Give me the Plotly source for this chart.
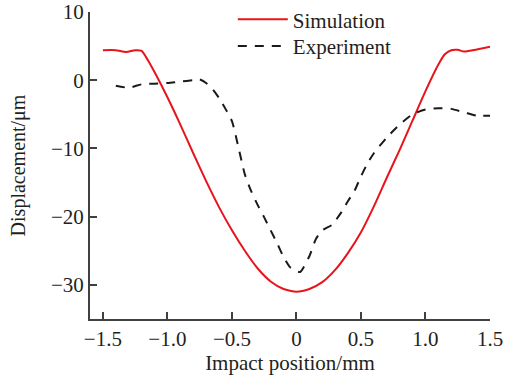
import plotly.graph_objects as go

# Simulation (red solid)
sim_x = [-1.5, -1.4, -1.32, -1.25, -1.2, -1.15, -1.1, -1.0, -0.9, -0.8, -0.7, -0.6, -0.5, -0.4,
         -0.3, -0.2, -0.1, 0.0, 0.1, 0.2, 0.3, 0.4, 0.5, 0.6, 0.7, 0.8, 0.9, 1.0, 1.1, 1.15,
         1.2, 1.25, 1.3, 1.4, 1.5]
sim_y = [4.4, 4.4, 4.15, 4.4, 4.3, 2.9, 1.2, -2.5, -6.5, -10.7, -14.8, -18.6, -22.0, -25.0,
         -27.6, -29.5, -30.6, -31.0, -30.6, -29.6, -27.8, -25.3, -22.3, -18.5, -14.3, -10.2,
         -5.9, -1.6, 2.3, 3.8, 4.4, 4.45, 4.2, 4.5, 4.9]

# Experiment (black dashed)
exp_x = [-1.4, -1.3, -1.2, -1.1, -1.0, -0.9, -0.8, -0.75, -0.7, -0.65, -0.6, -0.55, -0.5,
         -0.45, -0.4, -0.35, -0.3, -0.25, -0.2, -0.15, -0.1, -0.05, 0.0, 0.03, 0.1, 0.15,
         0.2, 0.275, 0.35, 0.4, 0.45, 0.5, 0.55, 0.6, 0.7, 0.8, 0.9, 1.0, 1.1, 1.2, 1.3,
         1.4, 1.5]
exp_y = [-0.8, -1.1, -0.6, -0.5, -0.4, -0.2, 0.0, 0.1, -0.4, -1.3, -2.6, -4.2, -6.0,
         -9.8, -13.8, -16.3, -18.3, -20.1, -22.0, -23.9, -25.9, -27.4, -28.0, -28.1, -25.8,
         -23.3, -22.0, -21.2, -19.3, -17.7, -16.2, -14.1, -12.2, -10.7, -8.4, -6.5, -5.0,
         -4.3, -4.1, -4.2, -4.7, -5.2, -5.2]

x_tickvals = [-1.5, -1.0, -0.5, 0, 0.5, 1.0, 1.5]
x_ticktext = ["\u22121.5", "\u22121.0", "\u22120.5", "0", "0.5", "1.0", "1.5"]
y_tickvals = [10, 0, -10, -20, -30]
y_ticktext = ["10", "0", "\u221210", "\u221220", "\u221230"]

FONT = "Liberation Serif"
AX = "#404040"

fig = go.Figure()
fig.add_trace(go.Scatter(x=sim_x, y=sim_y, mode="lines", name="Simulation", legend="legend",
                         line=dict(color="#e8141c", width=2, shape="spline", smoothing=0.6)))
fig.add_trace(go.Scatter(x=exp_x, y=exp_y, mode="lines", name="Experiment", legend="legend2",
                         line=dict(color="#1a1a1a", width=2, dash="9px,8px",
                                   shape="spline", smoothing=0.6)))

leg_common = dict(xanchor="left", yanchor="middle", bgcolor="rgba(0,0,0,0)",
                  font=dict(family=FONT, size=21, color="#231f20"), itemwidth=50)

fig.update_layout(
    width=508, height=377,
    margin=dict(l=90, r=18, t=12, b=58, autoexpand=False),
    paper_bgcolor="white", plot_bgcolor="white",
    font=dict(family=FONT, size=21, color="#231f20"),
    showlegend=True,
    legend=dict(x=0.357, y=0.975, **leg_common),
    legend2=dict(x=0.357, y=0.888, **leg_common),
    xaxis=dict(range=[-1.6, 1.5], tickvals=x_tickvals, ticktext=x_ticktext,
               showline=True, linecolor=AX, linewidth=2, ticks="inside", ticklen=7,
               tickwidth=1.5, tickcolor=AX, showgrid=False, zeroline=False,
               automargin=False,
               title=dict(text="Impact position/mm", standoff=3,
                          font=dict(family=FONT, size=21)),
               tickfont=dict(family=FONT, size=21)),
    yaxis=dict(range=[-35, 10], tickvals=y_tickvals, ticktext=y_ticktext,
               showline=True, linecolor=AX, linewidth=2, ticks="inside", ticklen=7,
               tickwidth=1.5, tickcolor=AX, showgrid=False, zeroline=False,
               automargin=False,
               title=dict(text="Displacement/\u03bcm", standoff=20,
                          font=dict(family=FONT, size=20)),
               tickfont=dict(family=FONT, size=21)),
)

fig.write_html("out.html")
